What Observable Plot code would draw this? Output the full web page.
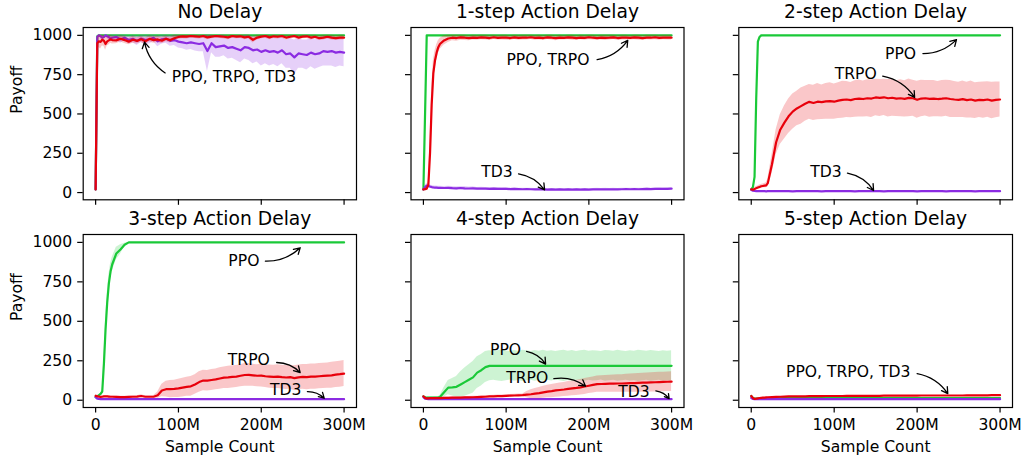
<!DOCTYPE html>
<html>
<head>
<meta charset="utf-8">
<script src="https://cdn.jsdelivr.net/npm/d3@7"></script>
<script src="https://cdn.jsdelivr.net/npm/@observablehq/plot@0.6"></script>
<style>
  body { margin: 0; background: #fff; }
  #chart { position: relative; width: 1022px; height: 457px; }
  #chart svg { position: absolute; left: 0; top: 0; }
</style>
</head>
<body>
<div id="chart"></div>
<script>
// ---- Sample count grid (millions of samples) ----
const steps = [0,2,4,6,8,10,12,14,16,18,20,
  25,30,35,40,45,50,55,60,65,70,
  75,80,85,90,95,100,105,110,115,120,
  125,130,135,140,145,150,155,160,165,170,
  175,180,185,190,195,200,205,210,215,220,
  225,230,235,240,245,250,255,260,265,270,
  275,280,285,290,295,300];

const panelTitles = ["No Delay", "1-step Action Delay", "2-step Action Delay",
  "3-step Action Delay", "4-step Action Delay", "5-step Action Delay"];
const xTickValues = [0, 100, 200, 300];
const yTickValues = [0, 250, 500, 750, 1000];
const algorithms = ["PPO", "TD3", "TRPO"];

// ---- No Delay ----
const noDelayPPO = [20,995,1000,1000,1000,1000,1000,1000,1000,1000,1000,
  1000,1000,1000,1000,1000,1000,1000,1000,1000,1000,
  1000,1000,1000,1000,1000,1000,1000,1000,1000,1000,
  1000,1000,1000,1000,1000,1000,1000,1000,1000,1000,
  1000,1000,1000,1000,1000,1000,1000,1000,1000,1000,
  1000,1000,1000,1000,1000,1000,1000,1000,1000,1000,
  1000,1000,1000,1000,1000,1000];
const noDelayTD3 = [20,990,1000,995,985,990,1000,995,988,980,985,
  990,975,985,970,978,965,980,970,975,985,
  962,975,980,965,970,960,955,950,955,950,
  945,950,900,950,925,930,935,920,925,915,
  905,925,920,905,910,895,905,895,900,890,
  905,880,885,860,885,880,875,890,880,885,
  900,895,900,890,895,890];
const noDelayTD3Spread = [2,15,10,15,20,20,15,15,20,20,20,
  20,25,20,25,25,30,25,30,30,25,
  35,30,30,35,35,40,40,45,45,50,
  50,55,130,60,65,70,65,70,70,75,
  80,75,80,85,80,90,85,90,85,90,
  85,90,95,110,95,90,95,90,95,90,
  95,90,95,95,90,90];
const noDelayTRPO = [20,950,962,958,972,966,945,962,968,975,970,
  968,978,970,960,972,965,975,962,978,970,
  974,966,978,970,982,990,994,992,996,994,
  991,996,987,992,996,994,991,987,996,992,
  994,987,991,972,986,992,996,987,994,991,
  996,986,991,996,986,992,994,986,991,982,
  986,991,986,982,986,985];
const noDelayTRPOSpread = [2,40,40,45,40,35,40,30,30,25,25,
  22,20,22,20,22,20,20,22,20,20,
  20,20,18,18,18,15,15,15,14,14,
  14,14,15,14,14,14,14,15,14,14,
  14,15,14,20,15,14,14,15,14,14,
  14,15,14,14,15,14,14,15,14,15,
  15,14,15,15,15,15];

// ---- 1-step ----
const oneStepPPO = [20,500,1000,1000,1000,1000,1000,1000,1000,1000,1000,
  1000,1000,1000,1000,1000,1000,1000,1000,1000,1000,
  1000,1000,1000,1000,1000,1000,1000,1000,1000,1000,
  1000,1000,1000,1000,1000,1000,1000,1000,1000,1000,
  1000,1000,1000,1000,1000,1000,1000,1000,1000,1000,
  1000,1000,1000,1000,1000,1000,1000,1000,1000,1000,
  1000,1000,1000,1000,1000,1000];
const oneStepTD3 = [20,35,45,42,38,35,33,32,31,30,30,
  29,30,28,27,29,27,26,27,25,26,
  25,24,25,24,23,24,22,23,22,21,
  22,21,20,21,20,19,20,19,20,19,
  20,19,20,19,20,19,20,21,20,21,
  20,21,20,21,22,21,22,21,22,23,
  22,23,24,23,24,25];
const oneStepTD3Spread = [3,10,12,12,10,10,10,10,10,10,10,
  10,10,10,10,10,12,10,10,8,8,
  8,8,8,8,8,8,6,6,6,6,
  6,6,6,6,6,6,6,6,6,6,
  6,6,6,6,6,6,6,6,6,6,
  6,6,6,6,6,6,6,6,6,6,
  6,6,6,6,6,6];
const oneStepTRPO = [20,22,25,50,250,560,760,840,890,925,945,
  968,980,985,983,987,985,982,986,984,987,
  985,983,988,984,986,985,983,987,984,986,
  985,988,984,986,983,987,985,982,986,984,
  987,985,983,986,984,988,985,983,986,984,
  985,987,983,986,985,984,987,985,983,986,
  985,988,984,986,985,985];
const oneStepTRPOSpread = [3,3,5,30,80,100,80,60,50,40,35,
  30,25,20,20,18,18,16,16,15,15,
  15,16,15,14,15,16,15,14,15,16,
  15,14,15,16,15,14,15,16,15,14,
  15,16,15,14,15,16,15,14,15,16,
  15,14,15,16,15,14,15,16,15,14,
  15,16,15,14,15,15];

// ---- 2-step ----
const twoStepPPO = [20,35,100,600,960,990,1000,1000,1000,1000,1000,
  1000,1000,1000,1000,1000,1000,1000,1000,1000,1000,
  1000,1000,1000,1000,1000,1000,1000,1000,1000,1000,
  1000,1000,1000,1000,1000,1000,1000,1000,1000,1000,
  1000,1000,1000,1000,1000,1000,1000,1000,1000,1000,
  1000,1000,1000,1000,1000,1000,1000,1000,1000,1000,
  1000,1000,1000,1000,1000,1000];
const twoStepTD3 = [18,12,10,9,9,9,10,9,9,8,9,
  9,9,10,9,9,8,9,9,9,10,
  9,9,8,9,9,9,10,9,9,9,
  8,9,9,9,10,9,9,8,9,9,
  9,10,9,9,9,8,9,9,10,9,
  9,9,8,9,9,10,9,9,9,8,
  9,9,10,9,9,9];
const twoStepTRPO = [20,18,22,28,32,36,40,42,44,46,60,
  180,320,400,445,485,515,535,550,565,577,
  570,578,575,580,582,578,585,590,592,588,
  595,598,595,600,598,605,602,606,600,603,
  598,600,596,602,600,590,598,600,596,598,
  595,597,600,595,592,590,594,588,592,585,
  590,588,592,585,590,592];
const twoStepTRPOSpread = [5,5,8,10,10,12,12,12,14,16,25,
  60,80,95,105,110,112,110,115,112,110,
  112,115,110,113,116,112,114,118,115,112,
  116,118,114,117,120,116,118,115,119,117,
  114,118,116,120,115,118,116,113,117,115,
  112,116,114,118,115,112,116,113,117,114,
  112,115,113,116,114,112];

// ---- 3-step ----
const threeStepPPO = [20,25,32,40,55,230,450,620,740,815,860,
  930,955,985,1000,1000,1000,1000,1000,1000,1000,
  1000,1000,1000,1000,1000,1000,1000,1000,1000,1000,
  1000,1000,1000,1000,1000,1000,1000,1000,1000,1000,
  1000,1000,1000,1000,1000,1000,1000,1000,1000,1000,
  1000,1000,1000,1000,1000,1000,1000,1000,1000,1000,
  1000,1000,1000,1000,1000,1000];
const threeStepPPOSpread = [2,2,3,5,10,40,60,60,55,50,45,
  40,30,10,2,1,1,1,1,1,1,
  1,1,1,1,1,1,1,1,1,1,
  1,1,1,1,1,1,1,1,1,1,
  1,1,1,1,1,1,1,1,1,1,
  1,1,1,1,1,1,1,1,1,1,
  1,1,1,1,1,1];
const threeStepTD3 = [20,10,8,7,7,7,7,7,7,7,7,
  7,7,7,7,7,7,7,7,7,7,
  7,7,7,7,7,7,7,7,7,7,
  7,7,7,7,7,7,7,7,7,7,
  7,7,7,7,7,7,7,7,7,7,
  7,7,7,7,7,7,7,7,7,7,
  7,7,7,7,7,7];
const threeStepTRPO = [28,25,22,21,22,24,25,24,23,22,22,
  21,20,20,21,22,23,27,22,22,22,
  32,62,70,70,72,75,80,85,88,100,
  115,125,124,128,132,138,143,145,148,150,
  155,160,161,158,155,156,152,150,148,150,
  146,144,146,140,145,148,146,150,150,152,
  154,156,158,162,165,169];
const threeStepTRPOSpread = [8,6,5,5,5,5,5,5,5,5,5,
  5,5,5,5,6,6,8,6,6,6,
  20,40,50,55,55,58,60,60,62,62,
  65,65,65,66,66,68,68,70,70,70,
  70,72,72,70,70,72,72,74,74,75,
  75,76,76,78,78,78,80,80,80,80,
  80,80,82,82,82,82];

// ---- 4-step ----
const fourStepPPO = [25,18,16,16,16,17,17,17,17,18,20,
  50,80,82,85,100,115,130,145,175,190,
  210,218,218,218,218,218,218,218,218,218,
  218,218,218,218,218,218,218,218,218,218,
  218,218,218,218,218,218,218,218,218,218,
  218,218,218,218,218,218,218,218,218,218,
  218,218,218,218,218,218];
const fourStepPPOSpread = [5,5,5,5,5,5,5,5,5,5,8,
  30,45,55,65,80,90,95,100,100,100,
  98,95,92,96,100,94,90,97,93,99,
  95,91,97,93,98,92,96,90,95,99,
  93,97,91,95,98,92,96,94,90,97,
  95,92,98,94,91,96,93,99,95,92,
  97,94,91,96,93,95];
const fourStepTD3 = [20,10,8,7,7,7,7,7,7,7,7,
  7,7,7,7,7,7,7,7,7,7,
  7,7,7,7,7,7,7,7,7,7,
  7,7,7,7,7,7,7,7,7,7,
  7,7,7,7,7,7,7,7,7,7,
  7,7,7,7,7,7,7,7,7,7,
  7,7,7,7,7,7];
const fourStepTRPO = [25,15,12,12,13,13,13,14,14,14,14,
  15,15,16,16,17,18,18,19,20,21,
  22,24,25,26,26,28,29,30,31,32,
  35,38,42,45,50,55,58,62,65,68,
  72,75,78,82,87,92,97,102,103,104,
  105,105,106,106,107,108,109,110,111,112,
  113,114,115,116,117,118];
const fourStepTRPOSpread = [5,5,5,5,5,5,5,5,5,5,5,
  5,5,5,5,5,5,5,6,6,6,
  6,6,6,7,7,7,7,8,8,8,
  20,28,32,35,38,40,42,43,44,45,
  46,47,48,49,50,50,51,52,52,53,
  54,55,55,56,57,58,59,60,60,61,
  61,62,62,62,62,62];

// ---- 5-step ----
const fiveStepPPO = [27,15,10,10,11,11,12,12,12,12,12,
  12,13,13,13,13,13,13,13,13,13,
  13,13,13,13,13,13,13,13,14,14,
  14,14,14,14,14,14,14,14,14,14,
  14,14,14,14,14,14,14,14,14,14,
  14,14,14,14,14,14,14,14,14,14,
  14,14,14,14,14,14];
const fiveStepTD3 = [15,8,7,7,7,7,7,7,7,7,7,
  7,7,7,7,7,7,7,7,7,7,
  7,7,7,7,7,7,7,7,7,7,
  7,7,7,7,7,7,7,7,7,7,
  7,7,7,7,7,7,7,7,7,7,
  7,7,7,7,7,7,7,7,7,7,
  7,7,7,7,7,7];
const fiveStepTRPO = [27,15,8,10,12,14,15,16,17,18,19,
  20,21,22,23,24,24,25,25,25,26,
  26,26,26,27,27,27,27,27,28,28,
  28,28,28,28,28,28,28,29,29,29,
  29,29,29,29,29,29,30,30,30,30,
  30,30,30,30,30,30,30,31,31,31,
  31,31,31,32,32,32];

// ---- Annotations (data coordinates; turn: +1 clockwise, -1 counter-clockwise) ----
const noDelayNotes = [
  {label: "PPO, TRPO, TD3", x: 167, y: 732, x1: 84, y1: 761, x2: 59, y2: 957, turn: 1}];
const oneStepNotes = [
  {label: "PPO, TRPO", x: 150.5, y: 846, x1: 210, y1: 846, x2: 247, y2: 968, turn: -1},
  {label: "TD3", x: 89, y: 133, x1: 115, y1: 119, x2: 146.5, y2: 17, turn: 1}];
const twoStepNotes = [
  {label: "PPO", x: 180, y: 884, x1: 207, y1: 884, x2: 247.5, y2: 973, turn: -1},
  {label: "TRPO", x: 126, y: 753, x1: 158.5, y1: 740, x2: 197, y2: 605, turn: 1},
  {label: "TD3", x: 90, y: 133, x1: 116, y1: 123, x2: 147.5, y2: 13, turn: 1}];
const threeStepNotes = [
  {label: "PPO", x: 179, y: 881, x1: 205, y1: 881, x2: 247, y2: 966, turn: -1},
  {label: "TRPO", x: 185, y: 254, x1: 218.6, y1: 239, x2: 247, y2: 175, turn: 1},
  {label: "TD3", x: 229.5, y: 64, x1: 255.7, y1: 55, x2: 276, y2: 13, turn: 1}];
const fourStepNotes = [
  {label: "PPO", x: 99.3, y: 320, x1: 124.7, y1: 309, x2: 147.7, y2: 229, turn: 1},
  {label: "TRPO", x: 125.5, y: 144, x1: 157.7, y1: 137, x2: 196, y2: 89, turn: 1},
  {label: "TD3", x: 254.5, y: 55, x1: 281, y1: 59, x2: 297, y2: 10, turn: 1}];
const fiveStepNotes = [
  {label: "PPO, TRPO, TD3", x: 116.9, y: 182, x1: 200, y1: 169, x2: 237, y2: 42, turn: 1}];

// ---- Assemble ----
const colors = {PPO: "#1ac938", TD3: "#8b2be2", TRPO: "#e8000b"};
const panels = [
  {series: [[noDelayPPO, null], [noDelayTD3, noDelayTD3Spread], [noDelayTRPO, noDelayTRPOSpread]], notes: noDelayNotes},
  {series: [[oneStepPPO, null], [oneStepTD3, oneStepTD3Spread], [oneStepTRPO, oneStepTRPOSpread]], notes: oneStepNotes},
  {series: [[twoStepPPO, null], [twoStepTD3, null], [twoStepTRPO, twoStepTRPOSpread]], notes: twoStepNotes},
  {series: [[threeStepPPO, threeStepPPOSpread], [threeStepTD3, null], [threeStepTRPO, threeStepTRPOSpread]], notes: threeStepNotes},
  {series: [[fourStepPPO, fourStepPPOSpread], [fourStepTD3, null], [fourStepTRPO, fourStepTRPOSpread]], notes: fourStepNotes},
  {series: [[fiveStepPPO, null], [fiveStepTD3, null], [fiveStepTRPO, null]], notes: fiveStepNotes}
];

const W = 1022, H = 457;
const frameLeft = [82.7, 410.5, 738.3], frameRight = [356, 683.5, 1012];
const frameTop = [27, 234], frameBottom = [199.3, 407];
const FS = 15.6, TITLE_FS = 18.7;
const container = document.getElementById("chart");

panels.forEach((p, i) => {
  const c = i % 3, r = Math.floor(i / 3);
  const marks = [];
  p.series.forEach(([vals, spread], k) => {
    const color = colors[algorithms[k]];
    const rows = steps.map((x, j) => ({
      x, y: vals[j],
      lo: spread ? vals[j] - spread[j] : null,
      hi: spread ? Math.min(1000, vals[j] + spread[j]) : null
    })).filter(d => d.y != null);
    if (spread) marks.push(Plot.areaY(rows, {x: "x", y1: "lo", y2: "hi", fill: color, fillOpacity: 0.22}));
    marks.push(Plot.line(rows, {x: "x", y: "y", stroke: color, strokeWidth: 2.2}));
  });
  marks.push(Plot.frame({stroke: "black", strokeWidth: 1.2}));
  marks.push(Plot.axisY({ticks: yTickValues, tickSize: 5.5, tickPadding: 5.5, strokeWidth: 1.2,
    tickFormat: c === 0 ? (d => String(d)) : (() => ""), fontSize: FS, label: null}));
  marks.push(Plot.axisX({ticks: xTickValues, tickSize: 5.5, tickPadding: 5.5, strokeWidth: 1.2,
    tickFormat: r === 1 ? (d => d === 0 ? "0" : d + "M") : (() => ""), fontSize: FS, label: null}));
  marks.push(Plot.text([panelTitles[i]], {text: d => d, frameAnchor: "top", dy: -9.4, lineAnchor: "bottom",
    fontSize: TITLE_FS, fill: "black"}));
  if (c === 0) marks.push(Plot.text(["Payoff"], {text: d => d, frameAnchor: "left", rotate: -90,
    dx: -61.2, lineAnchor: "bottom", fontSize: FS, fill: "black"}));
  if (r === 1) marks.push(Plot.text(["Sample Count"], {text: d => d, frameAnchor: "bottom", dy: 44.4,
    lineAnchor: "bottom", fontSize: FS, fill: "black"}));
  marks.push(Plot.text(p.notes, {x: "x", y: "y", text: "label", fontSize: FS, fill: "black"}));
  p.notes.forEach(n => marks.push(Plot.arrow([n], {x1: "x1", y1: "y1", x2: "x2", y2: "y2",
    bend: 22.5 * n.turn, stroke: "black", strokeWidth: 1.3, headLength: 8})));

  const svg = Plot.plot({
    width: W, height: H,
    marginLeft: frameLeft[c], marginRight: W - frameRight[c],
    marginTop: frameTop[r], marginBottom: H - frameBottom[r],
    x: {domain: [-15, 315]},
    y: {domain: [-46, 1050]},
    style: {background: "transparent", overflow: "visible", fontFamily: "DejaVu Sans", fontSize: "15.6px", color: "black"},
    marks
  });
  container.appendChild(svg);
});
</script>
</body>
</html>
